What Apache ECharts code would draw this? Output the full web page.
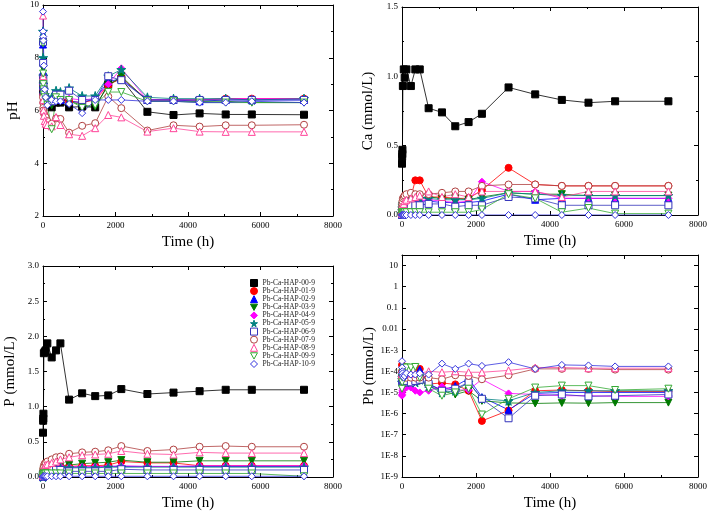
<!DOCTYPE html>
<html><head><meta charset="utf-8">
<script src="https://cdn.jsdelivr.net/npm/echarts@6/dist/echarts.min.js"></script>
<style>html,body{margin:0;padding:0;background:#fff}#c{width:710px;height:512px}</style>
</head><body><div id="c"></div>
<script>
// ---------------- data ----------------
const times = [0, 4, 8, 12, 24, 48, 72, 120, 240, 360, 480, 720, 1080, 1440, 1800, 2160, 2880, 3600, 4320, 5040, 5760, 7200];
const seriesNames = ['Pb-Ca-HAP-00-9','Pb-Ca-HAP-01-9','Pb-Ca-HAP-02-9','Pb-Ca-HAP-03-9','Pb-Ca-HAP-04-9','Pb-Ca-HAP-05-9','Pb-Ca-HAP-06-9','Pb-Ca-HAP-07-9','Pb-Ca-HAP-08-9','Pb-Ca-HAP-09-9','Pb-Ca-HAP-10-9'];
const xTicks = [0, 2000, 4000, 6000, 8000];
const pHTicks = [2, 4, 6, 8, 10];
const caTicks = [0, 0.5, 1.0, 1.5];
const pTicks = [0, 0.5, 1.0, 1.5, 2.0, 2.5, 3.0];
const pbTicks = ['10','1','0.1','0.01','1E-3','1E-4','1E-5','1E-6','1E-7','1E-8','1E-9'];

const pHValues = [
  [7.2, 7.0, 6.8, 6.7, 6.6, 6.5, 6.4, 6.3, 6.12, 6.3, 6.3, 6.12, 6.15, 6.12, 7.0, 7.2, 5.95, 5.83, 5.89, 5.85, 5.85, 5.84],
  [7.3, 7.0, 6.8, 6.6, 6.5, 6.4, 6.35, 6.3, 6.3, 6.45, 6.4, 6.35, 6.3, 6.4, 6.95, 7.25, 6.4, 6.4, 6.4, 6.45, 6.45, 6.45],
  [8.5, 7.5, 7.0, 6.8, 6.6, 6.5, 6.4, 6.35, 6.35, 6.4, 6.4, 6.35, 6.3, 6.45, 7.1, 7.2, 6.4, 6.4, 6.35, 6.4, 6.4, 6.4],
  [8.6, 7.6, 7.2, 6.9, 6.7, 6.5, 6.4, 6.3, 6.2, 6.55, 6.5, 6.35, 6.2, 6.15, 6.95, 7.3, 6.35, 6.35, 6.35, 6.35, 6.3, 6.3],
  [7.3, 7.0, 6.8, 6.6, 6.5, 6.4, 6.4, 6.35, 6.4, 6.45, 6.4, 6.45, 6.4, 6.45, 7.0, 7.6, 6.4, 6.4, 6.4, 6.45, 6.45, 6.45],
  [9.0, 8.0, 7.3, 7.0, 6.8, 6.6, 6.5, 6.5, 6.5, 6.75, 6.7, 6.85, 6.55, 6.55, 7.3, 7.55, 6.5, 6.45, 6.45, 6.45, 6.4, 6.45],
  [8.6, 7.8, 7.2, 6.9, 6.7, 6.5, 6.4, 6.3, 6.35, 6.6, 6.6, 6.75, 6.4, 6.4, 7.3, 7.15, 6.4, 6.4, 6.4, 6.4, 6.4, 6.4],
  [6.5, 6.3, 6.1, 6.0, 5.9, 5.8, 5.75, 5.6, 5.5, 5.7, 5.68, 5.16, 5.42, 5.52, 6.53, 6.09, 5.24, 5.44, 5.39, 5.44, 5.44, 5.46],
  [9.6, 7.3, 6.4, 6.0, 5.8, 5.6, 5.5, 5.45, 5.4, 5.75, 5.45, 5.1, 5.04, 5.33, 5.83, 5.74, 5.2, 5.33, 5.2, 5.19, 5.19, 5.19],
  [8.55, 7.4, 7.0, 6.8, 6.6, 6.5, 6.4, 6.2, 5.29, 6.5, 6.4, 6.4, 6.1, 6.2, 6.7, 6.7, 6.35, 6.35, 6.3, 6.3, 6.3, 6.3],
  [9.75, 9.0, 8.8, 8.65, 7.7, 6.8, 6.5, 6.2, 6.4, 6.35, 6.35, 6.25, 5.9, 6.4, 6.4, 6.4, 6.35, 6.35, 6.3, 6.3, 6.35, 6.3]
];
const caValues = [
  [0.37, 0.42, 0.44, 0.47, 0.93, 1.05, 0.99, 1.05, 0.93, 1.05, 1.05, 0.77, 0.74, 0.64, 0.67, 0.73, 0.92, 0.87, 0.83, 0.81, 0.82, 0.82],
  [0.01, 0.03, 0.05, 0.07, 0.09, 0.1, 0.11, 0.12, 0.13, 0.25, 0.25, 0.13, 0.13, 0.12, 0.12, 0.18, 0.34, 0.22, 0.21, 0.21, 0.21, 0.21],
  [0.0, 0.02, 0.03, 0.05, 0.06, 0.07, 0.08, 0.09, 0.1, 0.1, 0.1, 0.1, 0.09, 0.09, 0.09, 0.1, 0.15, 0.11, 0.12, 0.12, 0.12, 0.12],
  [0.01, 0.03, 0.05, 0.07, 0.09, 0.1, 0.11, 0.11, 0.12, 0.12, 0.12, 0.13, 0.12, 0.12, 0.11, 0.13, 0.16, 0.15, 0.15, 0.14, 0.14, 0.14],
  [0.0, 0.02, 0.04, 0.06, 0.08, 0.09, 0.1, 0.1, 0.1, 0.1, 0.1, 0.11, 0.1, 0.09, 0.1, 0.24, 0.17, 0.17, 0.12, 0.12, 0.12, 0.12],
  [0.01, 0.03, 0.05, 0.07, 0.08, 0.1, 0.1, 0.11, 0.11, 0.12, 0.12, 0.12, 0.11, 0.11, 0.11, 0.12, 0.16, 0.15, 0.14, 0.14, 0.14, 0.14],
  [0.0, 0.01, 0.02, 0.03, 0.04, 0.05, 0.06, 0.06, 0.07, 0.07, 0.07, 0.08, 0.08, 0.06, 0.07, 0.07, 0.13, 0.12, 0.07, 0.07, 0.07, 0.07],
  [0.02, 0.05, 0.08, 0.1, 0.12, 0.13, 0.14, 0.15, 0.16, 0.15, 0.15, 0.15, 0.16, 0.17, 0.17, 0.21, 0.22, 0.22, 0.21, 0.21, 0.21, 0.21],
  [0.01, 0.03, 0.05, 0.06, 0.07, 0.08, 0.1, 0.11, 0.12, 0.13, 0.14, 0.17, 0.13, 0.15, 0.13, 0.17, 0.17, 0.17, 0.13, 0.17, 0.17, 0.17],
  [0.0, 0.01, 0.02, 0.02, 0.02, 0.02, 0.02, 0.02, 0.02, 0.02, 0.02, 0.02, 0.02, 0.02, 0.02, 0.04, 0.15, 0.12, 0.02, 0.05, 0.01, 0.01],
  [0, 0, 0, 0, 0, 0, 0, 0, 0, 0, 0, 0, 0, 0, 0, 0, 0, 0, 0, 0, 0, 0]
];
const pValues = [
  [0.63, 0.8, 0.83, 0.9, 1.76, 1.78, 1.8, 1.9, 1.7, 1.8, 1.9, 1.1, 1.19, 1.15, 1.16, 1.25, 1.18, 1.2, 1.22, 1.24, 1.24, 1.24],
  [0.0, 0.03, 0.05, 0.07, 0.09, 0.1, 0.11, 0.12, 0.14, 0.15, 0.15, 0.15, 0.16, 0.16, 0.17, 0.22, 0.2, 0.2, 0.16, 0.16, 0.16, 0.16],
  [0.0, 0.02, 0.04, 0.06, 0.08, 0.1, 0.11, 0.12, 0.13, 0.14, 0.14, 0.14, 0.14, 0.14, 0.15, 0.15, 0.15, 0.15, 0.15, 0.15, 0.15, 0.15],
  [0.0, 0.03, 0.05, 0.07, 0.1, 0.12, 0.13, 0.14, 0.15, 0.16, 0.16, 0.17, 0.19, 0.2, 0.21, 0.24, 0.21, 0.21, 0.23, 0.23, 0.23, 0.23],
  [0.0, 0.02, 0.04, 0.06, 0.08, 0.1, 0.11, 0.12, 0.13, 0.14, 0.15, 0.14, 0.15, 0.15, 0.15, 0.16, 0.15, 0.15, 0.16, 0.16, 0.16, 0.16],
  [0.0, 0.02, 0.04, 0.06, 0.08, 0.09, 0.1, 0.11, 0.12, 0.12, 0.13, 0.13, 0.13, 0.13, 0.14, 0.14, 0.14, 0.14, 0.14, 0.14, 0.14, 0.14],
  [0.0, 0.02, 0.03, 0.04, 0.05, 0.06, 0.07, 0.08, 0.1, 0.1, 0.1, 0.08, 0.08, 0.08, 0.08, 0.11, 0.1, 0.1, 0.1, 0.1, 0.1, 0.1],
  [0.02, 0.06, 0.1, 0.13, 0.16, 0.19, 0.2, 0.22, 0.25, 0.28, 0.29, 0.33, 0.35, 0.36, 0.38, 0.44, 0.37, 0.39, 0.43, 0.44, 0.43, 0.43],
  [0.02, 0.05, 0.08, 0.1, 0.12, 0.15, 0.17, 0.18, 0.2, 0.22, 0.25, 0.28, 0.31, 0.32, 0.33, 0.37, 0.33, 0.32, 0.35, 0.34, 0.34, 0.34],
  [0.0, 0.02, 0.03, 0.04, 0.05, 0.05, 0.05, 0.05, 0.05, 0.05, 0.05, 0.05, 0.05, 0.05, 0.05, 0.05, 0.05, 0.05, 0.05, 0.05, 0.05, 0.01],
  [0.0, 0.0, 0.01, 0.01, 0.01, 0.01, 0.01, 0.01, 0.01, 0.01, 0.01, 0.01, 0.01, 0.01, 0.01, 0.01, 0.01, 0.01, 0.01, 0.01, 0.01, 0.01]
];
const pbValues = [
  [null, null, null, null, null, null, null, null, null, null, null, null, null, null, null, null, null, null, null, null, null, null],
  [2e-4, 1e-4, 6e-5, 5e-5, 4.5e-5, 4e-5, 5e-5, 6e-5, 5e-5, 5e-5, 1.3e-4, 2.5e-5, 2.8e-5, 2.4e-5, 1.2e-5, 4.5e-7, 1.4e-6, 1.2e-5, 1.3e-5, 1.2e-5, 1.1e-5, 1.1e-5],
  [1e-4, 8e-5, 6e-5, 5e-5, 4e-5, 4e-5, 5e-5, 6e-5, 5e-5, 6e-5, 1.2e-4, 2.5e-5, 1.3e-5, 2e-5, 4.5e-5, 6e-6, 1.5e-6, 9e-6, 1e-5, 1e-5, 1e-5, 1e-5],
  [2e-5, 3e-5, 4e-5, 4e-5, 3.5e-5, 3e-5, 3e-5, 3.5e-5, 3e-5, 4e-5, 3.5e-5, 2e-5, 1.2e-5, 8e-6, 1.2e-5, 4e-6, 3.2e-6, 3e-6, 3.2e-6, 3.1e-6, 3.3e-6, 3.3e-6],
  [7e-6, 8e-6, 1e-5, 1.2e-5, 1.5e-5, 1.7e-5, 1.6e-5, 1.7e-5, 1.7e-5, 1.2e-5, 1e-5, 1.2e-5, 1.9e-5, 1.3e-5, 1.3e-5, 4.2e-5, 9e-6, 8e-6, 7e-6, 7e-6, 6.5e-6, 6.5e-6],
  [3e-5, 4e-5, 5e-5, 5e-5, 4e-5, 4e-5, 4e-5, 4e-5, 3e-5, 3e-5, 4e-5, 2e-5, 1e-5, 1.2e-5, 3e-5, 5e-6, 4e-6, 1e-5, 1.2e-5, 1.2e-5, 1.2e-5, 1.2e-5],
  [5e-5, 4e-5, 3e-5, 3e-5, 3e-5, 3e-5, 3e-5, 3.5e-5, 3e-5, 3.5e-5, 4e-5, 2.5e-5, 1.2e-5, 1.5e-5, 3e-5, 5e-6, 6e-7, 7e-6, 8e-6, 6.5e-6, 7e-6, 8e-6],
  [5e-5, 5e-5, 5e-5, 5e-5, 5e-5, 5e-5, 5e-5, 5e-5, 5e-5, 5e-5, 5e-5, 5e-5, 4.2e-5, 6.5e-5, 6e-5, 4.2e-5, 6.5e-5, 1.3e-4, 1.3e-4, 1.3e-4, 1.2e-4, 1.2e-4],
  [6e-5, 7e-5, 8e-5, 8e-5, 8e-5, 8e-5, 8e-5, 8e-5, 8e-5, 8e-5, 8e-5, 1e-4, 9e-5, 1e-4, 9e-5, 9e-5, 1.1e-4, 1.5e-4, 1.5e-4, 1.4e-4, 1.4e-4, 1.4e-4],
  [1.5e-5, 3e-5, 5e-5, 8e-5, 1e-4, 1.5e-4, 1.5e-4, 1.5e-4, 1.5e-4, 1.6e-4, 5e-5, 1.5e-5, 7e-6, 1e-5, 1.5e-5, 9e-7, 5e-6, 1.7e-5, 2.1e-5, 2.1e-5, 1.3e-5, 1.5e-5],
  [3e-4, 1.5e-4, 1e-4, 8e-5, 6e-5, 5e-5, 6e-5, 8e-5, 7e-5, 7e-5, 8e-5, 7e-5, 2.3e-4, 1.3e-4, 2.3e-4, 1.8e-4, 2.7e-4, 1.3e-4, 2e-4, 1.9e-4, 1.7e-4, 1.7e-4]
];

// ---------------- styles ----------------
const STAR = 'path://M50,0 L61,35 L98,35 L68,57 L79,91 L50,70 L21,91 L32,57 L2,35 L39,35 Z';
const DOWN = 'path://M0,0 L10,0 L5,9 Z';
const styles = [
  {c:'#000000', s:'rect', fill:true},
  {c:'#ff0000', s:'circle', fill:true},
  {c:'#0000ff', s:'triangle', fill:true},
  {c:'#007a00', s:DOWN, fill:true},
  {c:'#ff00ff', s:'diamond', fill:true},
  {c:'#008080', s:STAR, fill:true},
  {c:'#3333bb', s:'rect', fill:false},
  {c:'#b04040', s:'circle', fill:false},
  {c:'#ff4499', s:'triangle', fill:false},
  {c:'#33aa33', s:DOWN, fill:false},
  {c:'#3333dd', s:'diamond', fill:false}
];
const FONT = 'Liberation Serif';
const panels = [
  {grid:{left:43, top:5, width:290, height:211}, name:'pH', values:pHValues, ticks:pHTicks, log:false, nameGap:22},
  {grid:{left:402, top:7, width:296, height:208}, name:'Ca (mmol/L)', values:caValues, ticks:caTicks, log:false, nameGap:26},
  {grid:{left:43, top:266, width:290, height:212}, name:'P (mmol/L)', values:pValues, ticks:pTicks, log:false, nameGap:25},
  {grid:{left:402, top:255, width:296, height:224}, name:'Pb (mmol/L)', values:pbValues, ticks:pbTicks, log:true, nameGap:25}
];

const axisLine = {show:true, onZero:false, lineStyle:{color:'#000', width:1}};
const tick = {show:true, inside:true, length:4, lineStyle:{color:'#000'}};
const minor = {show:true, splitNumber:2, length:2, lineStyle:{color:'#000'}};
const lbl = {fontFamily:FONT, fontSize:9, color:'#000'};
const nameStyle = {fontFamily:FONT, fontSize:15, fontWeight:'normal', color:'#000'};

const grids = [], xAxes = [], yAxes = [], series = [];
panels.forEach((p, pi) => {
  grids.push(p.grid);
  const xBase = {type:'value', gridIndex:pi, min:xTicks[0], max:xTicks[xTicks.length-1], interval:xTicks[1]-xTicks[0],
    axisLine, axisTick:tick, minorTick:minor, splitLine:{show:false}};
  xAxes.push(Object.assign({}, xBase, {position:'bottom', name:'Time (h)', nameLocation:'middle', nameGap:19,
    nameTextStyle:nameStyle, axisLabel:Object.assign({margin:5, formatter:(v) => String(v)}, lbl)}));
  xAxes.push(Object.assign({}, xBase, {position:'top', axisLabel:{show:false}}));
  let yBase;
  if (p.log) {
    yBase = {type:'log', logBase:10, gridIndex:pi, min:1e-9, max:Math.pow(10, 1.5), interval:1, splitNumber:10,
      axisLine, axisTick:tick, splitLine:{show:false}};
  } else {
    const t = p.ticks;
    yBase = {type:'value', gridIndex:pi, min:t[0], max:t[t.length-1], interval:t[1]-t[0],
      axisLine, axisTick:tick, minorTick:minor, splitLine:{show:false}};
  }
  const fmt = p.log
    ? (v) => { const l = Math.log10(v); const e = Math.round(l); if (Math.abs(l - e) > 0.01) return ''; return pbTicks[1 - e] || ''; }
    : (pi === 0 ? (v) => String(v) : (v) => v.toFixed(1));
  yAxes.push(Object.assign({}, yBase, {position:'left', name:p.name, nameLocation:'middle', nameGap:p.nameGap,
    nameTextStyle:nameStyle, axisLabel:Object.assign({margin:4, formatter:fmt}, lbl)}));
  yAxes.push(Object.assign({}, yBase, {position:'right', axisLabel:{show:false}}));

  p.values.forEach((vals, si) => {
    const st = styles[si];
    series.push({
      type:'line', name:seriesNames[si], xAxisIndex:2*pi, yAxisIndex:2*pi,
      data: times.map((t, i) => [t, vals[i]]),
      symbol: st.s, symbolSize: st.s === STAR ? 9 : 7,
      showAllSymbol:true, connectNulls:false, animation:false,
      lineStyle:{color:st.c, width:0.8},
      itemStyle:{color: st.fill ? st.c : '#ffffff', borderColor: st.c, borderWidth:1},
      emphasis:{disabled:true}
    });
  });
});

const option = {
  animation:false,
  backgroundColor:'#ffffff',
  grid: grids, xAxis: xAxes, yAxis: yAxes, series,
  legend: {
    orient:'vertical', left:245, top:274, itemWidth:7, itemHeight:7, itemGap:0.1,
    textStyle:{fontFamily:FONT, fontSize:7.5, color:'#222', lineHeight:7},
    selectedMode:false,
    data: seriesNames.map((n, i) => ({name:n, icon:styles[i].s,
      itemStyle:{color: styles[i].fill ? styles[i].c : '#ffffff', borderColor: styles[i].c, borderWidth:1}}))
  }
};
const chart = echarts.init(document.getElementById('c'), null, {renderer:'canvas'});
chart.setOption(option);
</script>
</body></html>
